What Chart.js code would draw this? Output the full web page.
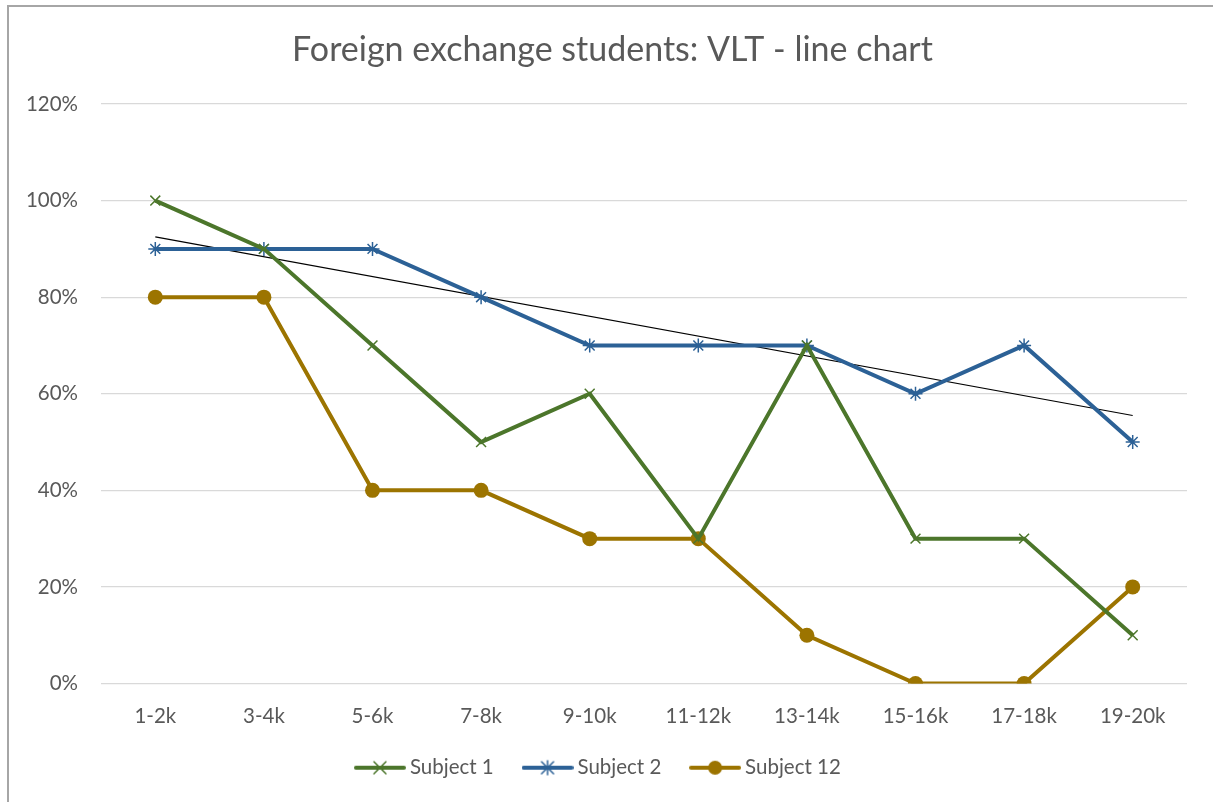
<!DOCTYPE html>
<html>
<head>
<meta charset="utf-8">
<script src="https://cdn.jsdelivr.net/npm/chart.js@4"></script>
<style>
  html, body { margin: 0; padding: 0; background: #fff; overflow: hidden; }
  #wrap { position: relative; width: 1213px; height: 802px; }
  #frame { position: absolute; left: 7px; top: 5px; right: -10px; bottom: -10px; border-top: 2px solid #a6a6a6; border-left: 2px solid #a6a6a6; }
  canvas { position: absolute; left: 0; top: 0; }
</style>
</head>
<body>
<div id="wrap">
  <div id="frame"></div>
  <canvas id="chart" width="1213" height="802"></canvas>
</div>
<script>
// categories and values (percent)
const categories = ['1-2k', '3-4k', '5-6k', '7-8k', '9-10k', '11-12k', '13-14k', '15-16k', '17-18k', '19-20k'];
const subject1 = [100, 90, 70, 50, 60, 30, 70, 30, 30, 10];
const subject2 = [90, 90, 90, 80, 70, 70, 70, 60, 70, 50];
const subject12 = [80, 80, 40, 40, 30, 30, 10, 0, 0, 20];
// linear trendline of subject 2, read at first and last category
const trendEnds = [92.5, 55.5];
const yTicks = [0, 20, 40, 60, 80, 100, 120];

const green = '#4c762b';
const blue = '#2c6196';
const gold = '#9c7400';
const font = 'Lato, "Open Sans", sans-serif';

// trend line only has its two ends, the gap is spanned
const trendData = categories.map((c, i) => i === 0 ? trendEnds[0] : (i === categories.length - 1 ? trendEnds[1] : null));

// legend icon: short line with the marker in the middle
function legendIcon(color, style) {
    const c = document.createElement('canvas');
    c.width = 52; c.height = 18;
    const g = c.getContext('2d');
    g.strokeStyle = color;
    g.lineWidth = 4;
    g.lineCap = 'round';
    g.beginPath(); g.moveTo(2, 9); g.lineTo(50, 9); g.stroke();
    g.lineWidth = 1.5;
    if (style === 'circle') {
        g.fillStyle = color;
        g.beginPath(); g.arc(26, 9, 7, 0, Math.PI * 2); g.fill();
    } else if (style === 'x') {
        g.beginPath();
        g.moveTo(20, 3); g.lineTo(32, 15);
        g.moveTo(32, 3); g.lineTo(20, 15);
        g.stroke();
    } else {
        g.beginPath();
        g.moveTo(20, 3); g.lineTo(32, 15);
        g.moveTo(32, 3); g.lineTo(20, 15);
        g.moveTo(26, 2); g.lineTo(26, 16);
        g.stroke();
    }
    return c;
}

const icons = [legendIcon(green, 'x'), legendIcon(blue, 'star'), legendIcon(gold, 'circle')];

// legend sits a bit left of the title's centre in the original
const legendShift = {
    id: 'legendShift',
    afterLayout(c) {
        if (c.legend) { c.legend.left -= 12; c.legend.right -= 12; }
    }
};

const ctx = document.getElementById('chart').getContext('2d');
const chart = new Chart(ctx, {
    type: 'line',
    data: {
        labels: categories,
        datasets: [{
            label: 'Subject 1',
            data: subject1,
            borderColor: green,
            backgroundColor: green,
            borderWidth: 4,
            pointStyle: 'crossRot',
            pointRadius: 7,
            pointBorderWidth: 1.5,
            tension: 0
        }, {
            label: 'Subject 2',
            data: subject2,
            borderColor: blue,
            backgroundColor: blue,
            borderWidth: 4,
            pointStyle: 'star',
            pointRadius: 7,
            pointBorderWidth: 1.5,
            tension: 0
        }, {
            label: 'Subject 12',
            data: subject12,
            borderColor: gold,
            backgroundColor: gold,
            borderWidth: 4,
            pointStyle: 'circle',
            pointRadius: 7.5,
            pointBorderWidth: 0,
            tension: 0
        }, {
            label: 'Trend',
            data: trendData,
            borderColor: '#000',
            borderWidth: 1.2,
            pointRadius: 0,
            spanGaps: true,
            tension: 0
        }]
    },
    options: {
        responsive: false,
        animation: false,
        layout: { padding: { left: 38, right: 26, top: 0, bottom: 14 } },
        scales: {
            x: {
                offset: true,
                grid: { display: false, drawTicks: false },
                border: { display: false },
                ticks: { color: '#595959', font: { family: font, size: 20.5 }, padding: 21, maxRotation: 0 },
                afterFit: s => { s.height = 40; }
            },
            y: {
                min: 0,
                max: 120,
                afterBuildTicks: s => { s.ticks = yTicks.map(v => ({ value: v })); },
                grid: { color: '#d9d9d9', lineWidth: 1.3, drawTicks: false },
                border: { display: false },
                ticks: { color: '#595959', font: { family: font, size: 20.5 }, padding: 23, callback: v => v + '%' },
                afterFit: s => { s.width = 63; }
            }
        },
        plugins: {
            title: {
                display: true,
                text: 'Foreign exchange students: VLT - line chart',
                color: '#595959',
                font: { family: font, size: 34, weight: 'normal' },
                padding: { top: 29.6, bottom: 33.6 }
            },
            legend: {
                position: 'bottom',
                labels: {
                    color: '#595959',
                    font: { family: font, size: 20.5 },
                    usePointStyle: true,
                    pointStyleWidth: 39.5,
                    padding: 34,
                    filter: item => item.datasetIndex < 3,
                    generateLabels: c => c.data.datasets.map((d, i) => ({
                        text: d.label,
                        datasetIndex: i,
                        pointStyle: icons[i],
                        fillStyle: d.borderColor,
                        strokeStyle: d.borderColor,
                        lineWidth: 0,
                        fontColor: '#595959'
                    }))
                }
            },
            tooltip: { enabled: false }
        }
    },
    plugins: [legendShift]
});

// the y labels stick out left of the axis box, so don't clip them
chart.scales.y._computeLabelArea = () => null;
chart.draw();
</script>
</body>
</html>
